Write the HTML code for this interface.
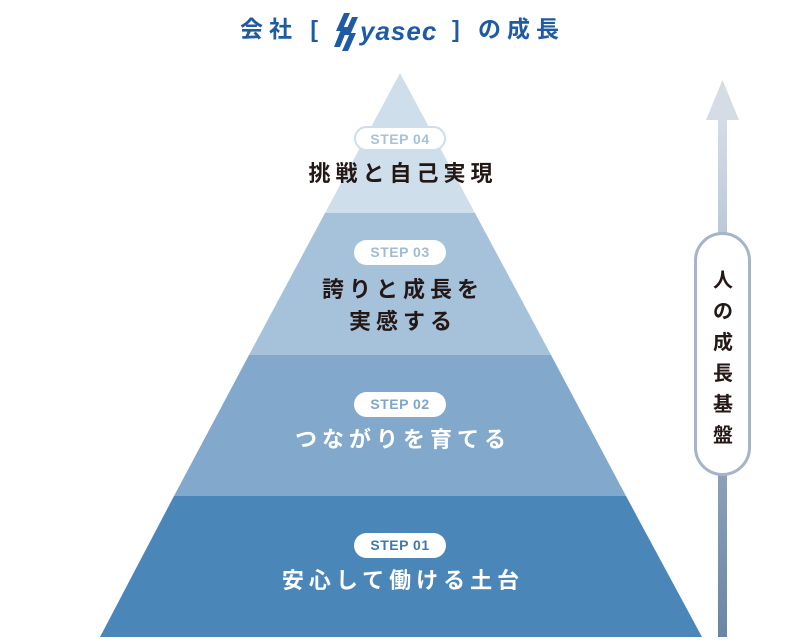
<!DOCTYPE html>
<html><head><meta charset="utf-8"><style>
body{margin:0;background:#fff;width:800px;height:641px;overflow:hidden;position:relative;font-family:"Liberation Sans","Noto Sans CJK JP",sans-serif}
.t{position:absolute;left:3px;width:800px;text-align:center;font-size:22px;letter-spacing:5px;font-weight:bold;line-height:32px}
.pill{position:absolute;left:354px;width:92px;height:25px;border-radius:13px;background:#fff;text-align:center;font-size:14px;line-height:25px;letter-spacing:0.5px;box-sizing:border-box;font-weight:bold}
</style></head><body>
<svg width="800" height="641" style="position:absolute;left:0;top:0">
<defs><linearGradient id="g" x1="0" y1="0" x2="0" y2="1"><stop offset="0" stop-color="#d5dce6"/><stop offset="1" stop-color="#6b85a3"/></linearGradient></defs>
<polygon points="400,73 475,213 325,213" fill="#cfdeeb"/>
<polygon points="325,213 475,213 551,355 249,355" fill="#a6c1da"/>
<polygon points="249,355 551,355 626,496 174,496" fill="#82a8cb"/>
<polygon points="174,496 626,496 702,637 100,637" fill="#4a86b8"/>
<rect x="718" y="118" width="9" height="519" fill="url(#g)"/>
<polygon points="722.5,80 739,120 706,120" fill="#d5dce6"/>
<rect x="695.5" y="233.5" width="54" height="241" rx="27" fill="#fff" stroke="#a5b4c7" stroke-width="3"/>
<g fill="#1f5ba3" transform="translate(336,13)">
<polygon points="8,0 14,0 6,18 0,18"/><polygon points="16,4 22,4 14,22 8,22"/><polygon points="6,14 12,14 4,34 -2,34" /><polygon points="14,20 20,20 12,38 6,38"/>
</g>
<text x="360" y="40" font-family="Liberation Sans,sans-serif" font-size="26" font-weight="bold" font-style="italic" fill="#1f5ba3" letter-spacing="1">yasec</text>
</svg>
<div style="position:absolute;left:240px;top:14px;font-size:23px;font-weight:bold;color:#1f5ba3;letter-spacing:6px;line-height:30px">会社 [</div>
<div style="position:absolute;left:452px;top:14px;font-size:23px;font-weight:bold;color:#1f5ba3;letter-spacing:6px;line-height:30px">] の成長</div>
<div class="pill" style="top:126px;border:2px solid #cfdeeb;color:#a6c1da;line-height:22px">STEP 04</div>
<div class="t" style="top:158px;color:#231815">挑戦と自己実現</div>
<div class="pill" style="top:240px;color:#9fbbd6">STEP 03</div>
<div class="t" style="top:274px;color:#231815">誇りと成長を</div>
<div class="t" style="top:306px;color:#231815">実感する</div>
<div class="pill" style="top:392px;color:#7fa5c9">STEP 02</div>
<div class="t" style="top:424px;color:#fff">つながりを育てる</div>
<div class="pill" style="top:533px;color:#3f78ab">STEP 01</div>
<div class="t" style="top:565px;color:#fff">安心して働ける土台</div>
<div style="position:absolute;left:711px;top:266px;width:24px;font-size:20px;line-height:31px;color:#231815;text-align:center;font-weight:bold">人<br>の<br>成<br>長<br>基<br>盤</div>
</body></html>
